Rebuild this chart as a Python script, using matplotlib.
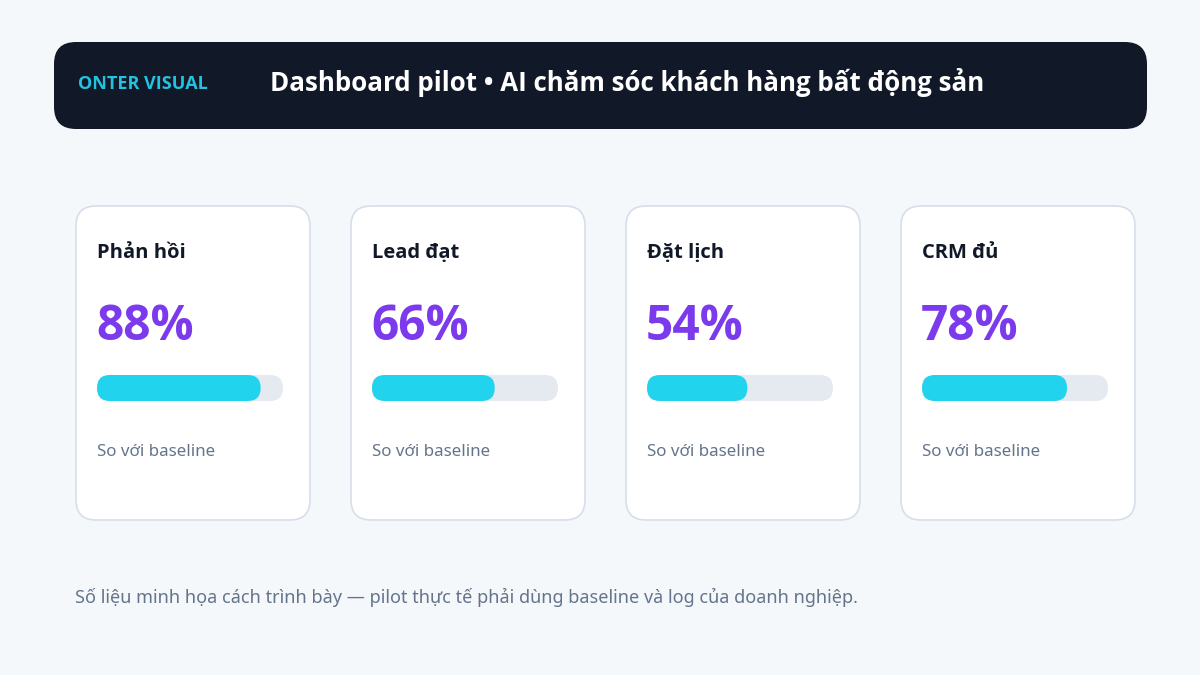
import matplotlib.pyplot as plt
from matplotlib.patches import FancyBboxPatch

# data
brand = "ONTER VISUAL"
title = "Dashboard pilot • AI chăm sóc khách hàng bất động sản"
labels = ["Phản hồi", "Lead đạt", "Đặt lịch", "CRM đủ"]
values = [88, 66, 54, 78]
sub = "So với baseline"
note = "Số liệu minh họa cách trình bày — pilot thực tế phải dùng baseline và log của doanh nghiệp."

plt.rcParams['font.family'] = ['Noto Sans', 'DejaVu Sans']
BOLD = ['Open Sans', 'DejaVu Sans']

BG = "#f5f8fb"
DARK = "#111827"
CYAN = "#22d3ee"
PURPLE = "#7c3aed"
TRACK = "#e5eaf1"
GREY = "#64748b"

fig = plt.figure(figsize=(12, 6.75), dpi=100)
fig.patch.set_facecolor(BG)
ax = fig.add_axes([0, 0, 1, 1])
ax.set_xlim(0, 1200)
ax.set_ylim(675, 0)
ax.axis('off')

# header band
ax.add_patch(FancyBboxPatch((54, 42), 1093, 87, boxstyle="round,pad=0,rounding_size=22",
                            fc=DARK, ec='none'))
ax.text(78, 89, brand, color="#22c3e0", fontsize=13, fontweight='bold', family=BOLD, va='baseline')
ax.text(270, 91, title, color='white', fontsize=18.6, fontweight='bold', family=BOLD, va='baseline')

# cards
card_x0 = 76
step = 275
card_w, card_h = 234, 314
track_w, track_h = 186, 26
for i, (lab, v) in enumerate(zip(labels, values)):
    x = card_x0 + i * step
    ax.add_patch(FancyBboxPatch((x, 206), card_w, card_h, boxstyle="round,pad=0,rounding_size=20",
                                fc='white', ec="#d6dee9", lw=1.2))
    ax.text(x + 21, 258, lab, color=DARK, fontsize=14.5, fontweight='bold', family=BOLD, va='baseline')
    ax.text(x + 20, 340, f"{v}%", color=PURPLE, fontsize=34.5, fontweight='bold', family=BOLD, va='baseline')
    ax.add_patch(FancyBboxPatch((x + 21, 375), track_w, track_h,
                                boxstyle=f"round,pad=0,rounding_size={track_h/2}",
                                fc=TRACK, ec='none'))
    ax.add_patch(FancyBboxPatch((x + 21, 375), track_w * v / 100, track_h,
                                boxstyle=f"round,pad=0,rounding_size={track_h/2}",
                                fc=CYAN, ec='none'))
    ax.text(x + 21, 456, sub, color=GREY, fontsize=12.2, va='baseline')

ax.text(75, 603, note, color=GREY, fontsize=13, va='baseline')

fig.savefig("out.png", dpi=100, facecolor=BG)
